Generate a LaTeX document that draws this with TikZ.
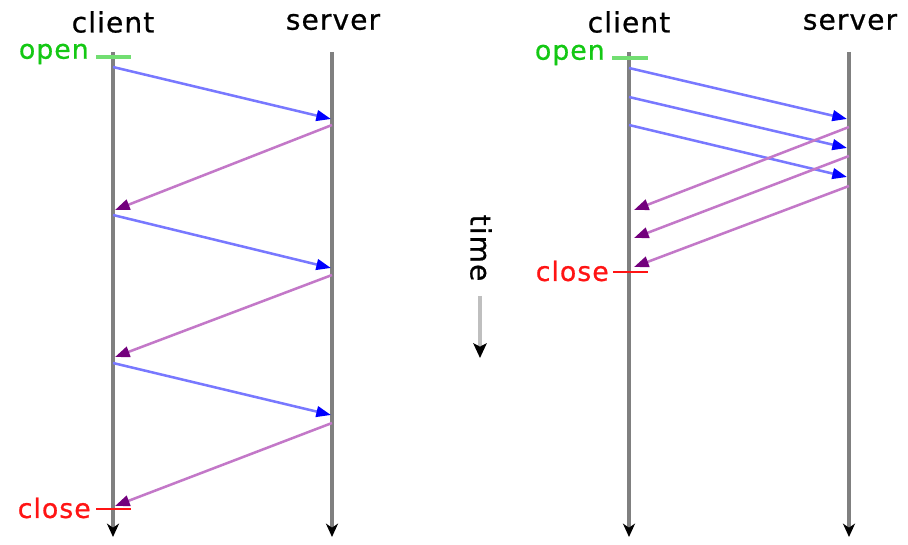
\documentclass[tikz,border=0pt]{standalone}
\usepackage{fontspec}
\setmainfont{DejaVu Sans}
\newfontfamily\lblfont[LetterSpace=4,FakeBold=0.8]{DejaVu Sans}
\usetikzlibrary{arrows.meta}
\definecolor{reqline}{RGB}{120,120,255}
\definecolor{reqtip}{RGB}{0,0,255}
\definecolor{respline}{RGB}{195,120,200}
\definecolor{resptip}{RGB}{115,0,125}
\definecolor{opengreen}{RGB}{20,200,20}
\definecolor{closered}{RGB}{255,20,20}
\begin{document}
\begin{tikzpicture}[x=0.75pt,y=-0.75pt,
  lifeline/.style={draw=black!50, line width=2.3pt,
    -{Stealth[length=10pt,width=9pt,inset=3pt,color=black]}},
  request/.style={draw=reqline, line width=1.9pt,
    -{Triangle[length=11pt,width=8pt,color=reqtip]}},
  response/.style={draw=respline, line width=1.9pt,
    -{Triangle[length=11pt,width=8pt,color=resptip]}},
  party/.style={font=\lblfont\fontsize{21}{24}\selectfont, text=black, inner sep=0pt},
  openlbl/.style={font=\lblfont\fontsize{20}{24}\selectfont, text=opengreen, inner sep=0pt, anchor=east},
  closelbl/.style={font=\lblfont\fontsize{20}{24}\selectfont, text=closered, inner sep=0pt, anchor=east},
  opentick/.style={draw=opengreen!60, line width=2.3pt},
  closetick/.style={draw=closered, line width=1.9pt},
  timearrow/.style={draw=black!25, line width=3pt,
    -{Stealth[length=11pt,width=10pt,inset=2.5pt,color=black]}},
]
\useasboundingbox (0,0) rectangle (908,545);

% ---------- sequential requests (left) ----------
\node[party] (lc) at (113,22) {client};
\node[party] (ls) at (333,22) {server};
\coordinate (lctop) at (113,52);
\coordinate (lcbot) at (113,537);
\coordinate (lstop) at (332,52);
\coordinate (lsbot) at (332,537);
\draw[lifeline] (lctop) -- (lcbot);
\draw[lifeline] (lstop) -- (lsbot);

\coordinate (lo1) at (96,57);  \coordinate (lo2) at (131,57);
\draw[opentick] (lo1) -- (lo2);
\node[openlbl] (lopen) at (89,54) {open};
\coordinate (lx1) at (96,509); \coordinate (lx2) at (131,509);
\draw[closetick] (lx1) -- (lx2);
\node[closelbl] (lclose) at (91,508) {close};

\coordinate (lq1a) at (113,67);  \coordinate (lq1b) at (331,119);
\coordinate (lr1a) at (332,125); \coordinate (lr1b) at (115,210);
\coordinate (lq2a) at (113,215); \coordinate (lq2b) at (331,268);
\coordinate (lr2a) at (332,275); \coordinate (lr2b) at (115,357);
\coordinate (lq3a) at (113,363); \coordinate (lq3b) at (331,415);
\coordinate (lr3a) at (332,423); \coordinate (lr3b) at (115,506);
\draw[request]  (lq1a) -- (lq1b);
\draw[response] (lr1a) -- (lr1b);
\draw[request]  (lq2a) -- (lq2b);
\draw[response] (lr2a) -- (lr2b);
\draw[request]  (lq3a) -- (lq3b);
\draw[response] (lr3a) -- (lr3b);

% ---------- time axis ----------
\node[party, rotate=-90] (time) at (481,248) {time};
\coordinate (t1) at (480,296);
\coordinate (t2) at (480,358);
\draw[timearrow] (t1) -- (t2);

% ---------- pipelined requests (right) ----------
\node[party] (rc) at (629,22) {client};
\node[party] (rs) at (850,22) {server};
\coordinate (rctop) at (629,52);
\coordinate (rcbot) at (629,537);
\coordinate (rstop) at (849,52);
\coordinate (rsbot) at (849,537);
\draw[lifeline] (rctop) -- (rcbot);
\draw[lifeline] (rstop) -- (rsbot);

\coordinate (ro1) at (612,58);  \coordinate (ro2) at (648,58);
\draw[opentick] (ro1) -- (ro2);
\node[openlbl] (ropen) at (605,55) {open};
\coordinate (rx1) at (613,272); \coordinate (rx2) at (648,272);
\draw[closetick] (rx1) -- (rx2);
\node[closelbl] (rclose) at (609,271) {close};

\coordinate (rq1a) at (629,68);  \coordinate (rq1b) at (847,119);
\coordinate (rq2a) at (629,97);  \coordinate (rq2b) at (847,148);
\coordinate (rq3a) at (629,125); \coordinate (rq3b) at (847,177);
\coordinate (rr1a) at (849,127); \coordinate (rr1b) at (634,210);
\coordinate (rr2a) at (849,156); \coordinate (rr2b) at (634,238);
\coordinate (rr3a) at (849,186); \coordinate (rr3b) at (634,267);
\draw[request]  (rq1a) -- (rq1b);
\draw[request]  (rq2a) -- (rq2b);
\draw[request]  (rq3a) -- (rq3b);
\draw[response] (rr1a) -- (rr1b);
\draw[response] (rr2a) -- (rr2b);
\draw[response] (rr3a) -- (rr3b);
\end{tikzpicture}
\end{document}
